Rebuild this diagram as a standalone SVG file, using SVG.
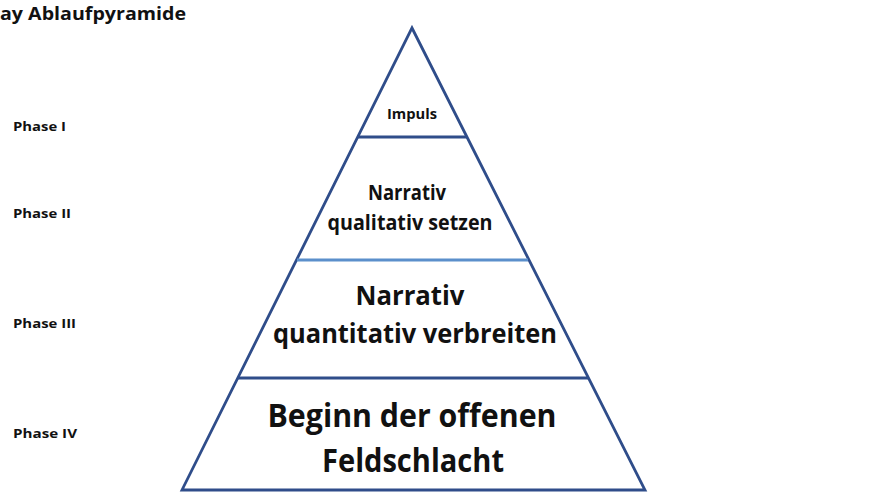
<svg xmlns="http://www.w3.org/2000/svg" width="887" height="498" viewBox="0 0 887 498">
<style>
text{font-family:"Open Sans","Noto Sans","Liberation Sans",sans-serif;font-weight:700;fill:#111;}
.c{text-anchor:middle;}
.ph{font-size:13px;}
.edge{fill:none;stroke:#2F4D8A;stroke-width:2.8;stroke-linejoin:miter;}
</style>
<rect width="887" height="498" fill="#fff"/>
<text x="0" y="20" font-size="18" textLength="186" lengthAdjust="spacingAndGlyphs">ay Ablaufpyramide</text>
<g id="labels">
<text class="ph" x="13" y="131" textLength="53" lengthAdjust="spacingAndGlyphs">Phase I</text>
<text class="ph" x="13" y="218" textLength="58" lengthAdjust="spacingAndGlyphs">Phase II</text>
<text class="ph" x="13" y="328" textLength="63" lengthAdjust="spacingAndGlyphs">Phase III</text>
<text class="ph" x="13" y="438" textLength="64" lengthAdjust="spacingAndGlyphs">Phase IV</text>
</g>
<g id="connectors">
<polygon class="edge" points="412,28 645,490 182,490"/>
<line class="edge" x1="357" y1="137" x2="467" y2="137"/>
<line x1="297" y1="260" x2="528" y2="260" stroke="#5B8FCB" stroke-width="2.8"/>
<line class="edge" x1="238" y1="378" x2="588" y2="378"/>
</g>
<g id="node-impuls">
<text class="c" x="412" y="119" font-size="14" textLength="50" lengthAdjust="spacingAndGlyphs">Impuls</text>
</g>
<g id="node-qualitativ">
<text class="c" x="407" y="200" font-size="21" textLength="78" lengthAdjust="spacingAndGlyphs">Narrativ</text>
<text class="c" x="410" y="230" font-size="21" textLength="165" lengthAdjust="spacingAndGlyphs">qualitativ setzen</text>
</g>
<g id="node-quantitativ">
<text class="c" x="410" y="305" font-size="26" textLength="109" lengthAdjust="spacingAndGlyphs">Narrativ</text>
<text class="c" x="415" y="343" font-size="26" textLength="284" lengthAdjust="spacingAndGlyphs">quantitativ verbreiten</text>
</g>
<g id="node-feldschlacht">
<text class="c" x="412" y="427" font-size="33" textLength="289" lengthAdjust="spacingAndGlyphs">Beginn der offenen</text>
<text class="c" x="413" y="472" font-size="33" textLength="182" lengthAdjust="spacingAndGlyphs">Feldschlacht</text>
</g>
</svg>
